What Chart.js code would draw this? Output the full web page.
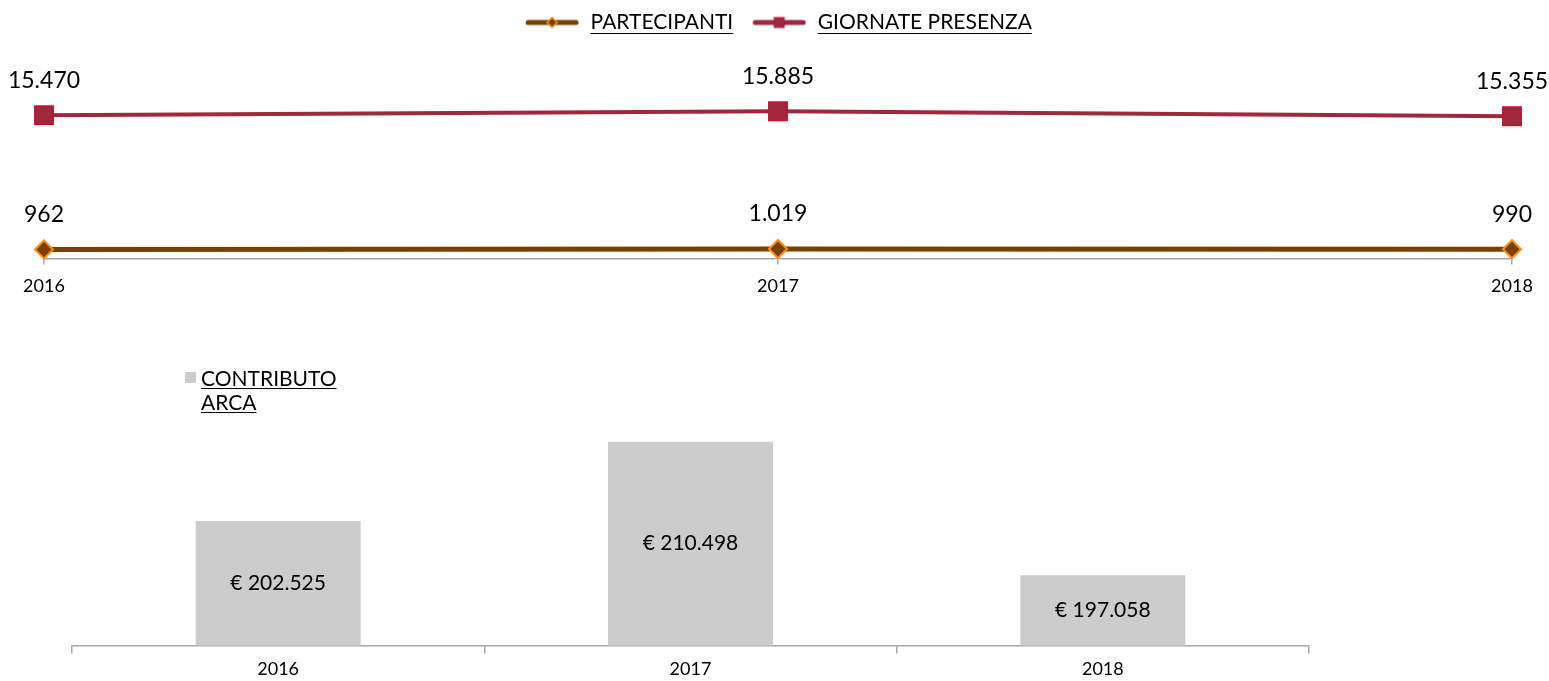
<!DOCTYPE html>
<html>
<head>
<meta charset="utf-8">
<script src="https://cdn.jsdelivr.net/npm/chart.js@4.4.0/dist/chart.umd.min.js"></script>
<style>
  body { margin: 0; background: #fff; width: 1549px; height: 681px; overflow: hidden; position: relative; }
  canvas { position: absolute; left: 0; }
  #line-chart { top: 0; }
  #bar-chart { top: 355px; }
</style>
</head>
<body>
<canvas id="line-chart" width="1549" height="312"></canvas>
<canvas id="bar-chart" width="1549" height="332"></canvas>
<script>
// data
const years = ['2016', '2017', '2018'];
const partecipanti = [962, 1019, 990];
const giornatePresenza = [15470, 15885, 15355];
const contributoArca = [202525, 210498, 197058];
const contributoLabel = ['CONTRIBUTO', 'ARCA'];

const FONT = "Lato, 'Open Sans', sans-serif";
const BROWN = '#7b3f00';
const ORANGE = '#ff8c1a';
const WINE = '#a0283c';
const RED = '#c8102e';
const AXIS = '#a6a6a6';
const LEGEND_SIZE = 21;

Chart.defaults.font.family = FONT;
Chart.defaults.color = '#000';

function fmt(v) {
    return String(v).replace(/\B(?=(\d{3})+(?!\d))/g, '.');
}

// little line + marker pictures for the top legend
function legendMarker(color, lineWidth, drawMarker) {
    const c = document.createElement('canvas');
    c.width = 56; c.height = 18;
    const ctx = c.getContext('2d');
    ctx.strokeStyle = color;
    ctx.lineWidth = lineWidth;
    ctx.lineCap = 'round';
    ctx.beginPath();
    ctx.moveTo(4, 9);
    ctx.lineTo(52, 9);
    ctx.stroke();
    drawMarker(ctx, 28, 9);
    return c;
}
const diamondMarker = legendMarker(BROWN, 5, (ctx, x, y) => {
    ctx.beginPath();
    ctx.moveTo(x, y - 5); ctx.lineTo(x + 5, y); ctx.lineTo(x, y + 5); ctx.lineTo(x - 5, y);
    ctx.closePath();
    ctx.fillStyle = BROWN; ctx.fill();
    ctx.strokeStyle = ORANGE; ctx.lineWidth = 1.5; ctx.stroke();
});
const squareMarker = legendMarker(WINE, 5, (ctx, x, y) => {
    ctx.fillStyle = WINE;
    ctx.fillRect(x - 5, y - 5, 10, 10);
    ctx.strokeStyle = RED; ctx.lineWidth = 1; ctx.strokeRect(x - 5, y - 5, 10, 10);
});

const legendUnderline = {
    id: 'legendUnderline',
    afterDraw(chart) {
        const legend = chart.legend;
        if (!legend || !legend.legendHitBoxes) return;
        const ctx = chart.ctx;
        const boxW = legend.options.labels.pointStyleWidth;
        ctx.save();
        ctx.font = LEGEND_SIZE + 'px ' + FONT;
        ctx.strokeStyle = '#000';
        ctx.lineWidth = 1;
        legend.legendHitBoxes.forEach((box, i) => {
            const text = legend.legendItems[i].text;
            const x0 = box.left + boxW + LEGEND_SIZE / 2;
            const y = Math.round(box.top + box.height / 2 + LEGEND_SIZE * 0.48) + 0.5;
            ctx.beginPath();
            ctx.moveTo(x0, y);
            ctx.lineTo(x0 + ctx.measureText(text).width, y);
            ctx.stroke();
        });
        ctx.restore();
    }
};

const pointLabels = {
    id: 'pointLabels',
    afterDatasetsDraw(chart) {
        const ctx = chart.ctx;
        ctx.save();
        ctx.font = '23px ' + FONT;
        ctx.fillStyle = '#000';
        ctx.textAlign = 'center';
        ctx.textBaseline = 'middle';
        chart.data.datasets.forEach((ds, i) => {
            chart.getDatasetMeta(i).data.forEach((pt, j) => {
                ctx.fillText(fmt(ds.data[j]), pt.x, pt.y - 35);
            });
        });
        ctx.restore();
    }
};

new Chart(document.querySelector('#line-chart'), {
    type: 'line',
    data: {
        labels: years,
        datasets: [
            {
                label: 'PARTECIPANTI',
                data: partecipanti,
                borderColor: BROWN,
                borderWidth: 5,
                backgroundColor: BROWN,
                pointStyle: 'rectRot',
                pointRadius: 9,
                pointBackgroundColor: BROWN,
                pointBorderColor: ORANGE,
                pointBorderWidth: 2,
                clip: false
            },
            {
                label: 'GIORNATE PRESENZA',
                data: giornatePresenza,
                borderColor: WINE,
                borderWidth: 4,
                backgroundColor: WINE,
                pointStyle: 'rect',
                pointRadius: 13,
                pointBackgroundColor: WINE,
                pointBorderColor: RED,
                pointBorderWidth: 1.5,
                clip: false
            }
        ]
    },
    options: {
        responsive: false,
        animation: false,
        devicePixelRatio: 1,
        layout: { padding: { left: 44, right: 37, top: -6, bottom: 4 } },
        plugins: {
            tooltip: { enabled: false },
            legend: {
                position: 'top',
                labels: {
                    usePointStyle: true,
                    pointStyleWidth: 56,
                    padding: 18,
                    font: { size: LEGEND_SIZE },
                    generateLabels: chart => chart.data.datasets.map((ds, i) => ({
                        text: ds.label,
                        pointStyle: i === 0 ? diamondMarker : squareMarker,
                        datasetIndex: i,
                        fontColor: '#000',
                        lineWidth: 0,
                        hidden: false
                    }))
                }
            }
        },
        scales: {
            x: {
                offset: false,
                grid: { drawOnChartArea: false, tickLength: 6, color: AXIS, lineWidth: 1.5 },
                border: { color: AXIS, width: 1.5 },
                ticks: { padding: 11, font: { size: 18 }, color: '#000' }
            },
            y: {
                display: false,
                min: 0,
                max: 23260
            }
        }
    },
    plugins: [pointLabels, legendUnderline]
});

const barLabels = {
    id: 'barLabels',
    afterDatasetsDraw(chart) {
        const ctx = chart.ctx;
        const bottom = chart.chartArea.bottom;
        ctx.save();
        ctx.font = '21px ' + FONT;
        ctx.fillStyle = '#000';
        ctx.textAlign = 'center';
        ctx.textBaseline = 'middle';
        chart.getDatasetMeta(0).data.forEach((bar, j) => {
            ctx.fillText('€ ' + fmt(chart.data.datasets[0].data[j]), bar.x, (bar.y + bottom) / 2);
        });
        ctx.restore();
    }
};

// legend box at the top left, label on two underlined lines
const barLegend = {
    id: 'barLegend',
    afterDraw(chart) {
        const ctx = chart.ctx;
        ctx.save();
        ctx.fillStyle = chart.data.datasets[0].backgroundColor;
        ctx.fillRect(185, 17, 11, 11);
        ctx.font = LEGEND_SIZE + 'px ' + FONT;
        ctx.fillStyle = '#000';
        ctx.strokeStyle = '#000';
        ctx.lineWidth = 1;
        ctx.textBaseline = 'alphabetic';
        contributoLabel.forEach((line, i) => {
            const y = 31 + i * 24;
            ctx.fillText(line, 201, y);
            ctx.beginPath();
            ctx.moveTo(201, y + 2.5);
            ctx.lineTo(201 + ctx.measureText(line).width, y + 2.5);
            ctx.stroke();
        });
        ctx.restore();
    }
};

new Chart(document.querySelector('#bar-chart'), {
    type: 'bar',
    data: {
        labels: years,
        datasets: [
            {
                label: contributoLabel.join(' '),
                data: contributoArca,
                backgroundColor: '#cccccc',
                categoryPercentage: 1,
                barPercentage: 0.4
            }
        ]
    },
    options: {
        responsive: false,
        animation: false,
        devicePixelRatio: 1,
        layout: { padding: { left: 72, right: 240, top: 42, bottom: 2 } },
        plugins: {
            tooltip: { enabled: false },
            legend: { display: false }
        },
        scales: {
            x: {
                grid: { drawOnChartArea: false, tickLength: 8, color: AXIS, lineWidth: 1.5, offset: true },
                border: { color: AXIS, width: 1.5 },
                ticks: { padding: 5, font: { size: 18 }, color: '#000' }
            },
            y: {
                display: false,
                min: 190000,
                max: 215000
            }
        }
    },
    plugins: [barLabels, barLegend]
});
</script>
</body>
</html>
